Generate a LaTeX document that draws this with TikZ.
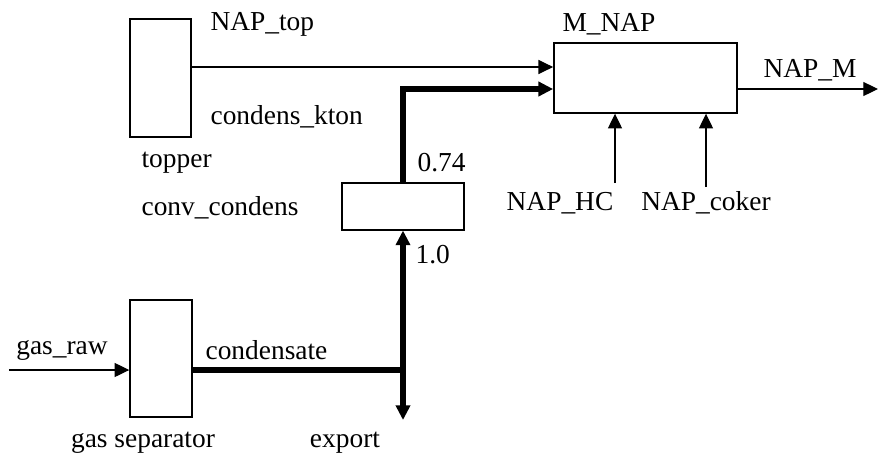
\documentclass[tikz,border=0pt]{standalone}
\usepackage{fontspec}
\setmainfont{Liberation Serif}
\usetikzlibrary{arrows.meta}
\tikzset{
    unit/.style={draw, line width=0.6pt, inner sep=0pt},
    flow/.style={line width=2.2pt},
    lbl/.style={inner sep=0pt}
}
\begin{document}
\begin{tikzpicture}[font=\fontsize{11.7}{14}\selectfont, line width=0.5pt,
    >={Triangle[length=0.22cm,width=0.21cm]}]
    \useasboundingbox (0,0) rectangle (13.185,6.885);
    % process units
    \node[unit, minimum width=0.915cm, minimum height=1.77cm] (topper) at (2.41,5.715) {};
    \node[unit, minimum width=2.745cm, minimum height=1.05cm] (mnap) at (9.68,5.715) {};
    \node[unit, minimum width=1.83cm, minimum height=0.705cm] (conv) at (6.045,3.79) {};
    \node[unit, minimum width=0.93cm, minimum height=1.755cm] (sep) at (2.415,1.51) {};
    % free ends of the streams
    \coordinate (rawin) at (0.135,1.335);
    \coordinate (junc) at (6.045,1.335);
    \coordinate (expout) at (6.045,0.585);
    \coordinate (napout) at (13.17,5.55);
    \coordinate (hcin) at (9.225,4.14);
    \coordinate (cokin) at (10.59,4.08);
    % streams
    \draw[->] ([yshift=0.165cm]topper.east) -- ([yshift=0.165cm]mnap.west);
    \draw[flow, ->] (conv.north) |- ([yshift=-0.165cm]mnap.west);
    \draw[->] (mnap.east |- napout) -- (napout);
    \draw[->] (hcin) -- (hcin |- mnap.south);
    \draw[->] (cokin) -- (cokin |- mnap.south);
    \draw[->] (rawin) -- (sep.west |- rawin);
    \draw[flow] (sep.east |- junc) -- (junc);
    \draw[flow, ->] (junc) -- (conv.south);
    \draw[flow, ->] (junc) -- (expout);
    % labels
    \node[lbl, anchor=west] (ltop) at (3.15,6.525) {NAP\_top};
    \node[lbl] (lmnap) at (9.135,6.525) {M\_NAP};
    \node[lbl] (lnapm) at (12.15,5.835) {NAP\_M};
    \node[lbl, anchor=west] (lkton) at (3.15,5.13) {condens\_kton};
    \node[lbl, anchor=west] (ltopper) at (2.115,4.44) {topper};
    \node[lbl, anchor=west] (lconv) at (2.115,3.765) {conv\_condens};
    \node[lbl, anchor=west] (lsplit) at (6.255,4.44) {0.74};
    \node[lbl] (lhc) at (8.4,3.84) {NAP\_HC};
    \node[lbl] (lcoker) at (10.59,3.84) {NAP\_coker};
    \node[lbl, anchor=west] (lone) at (6.225,3.06) {1.0};
    \node[lbl] (lraw) at (0.93,1.635) {gas\_raw};
    \node[lbl, anchor=west] (lcond) at (3.075,1.635) {condensate};
    \node[lbl] (lsep) at (2.145,0.24) {gas separator};
    \node[lbl] (lexp) at (5.175,0.24) {export};
\end{tikzpicture}
\end{document}
